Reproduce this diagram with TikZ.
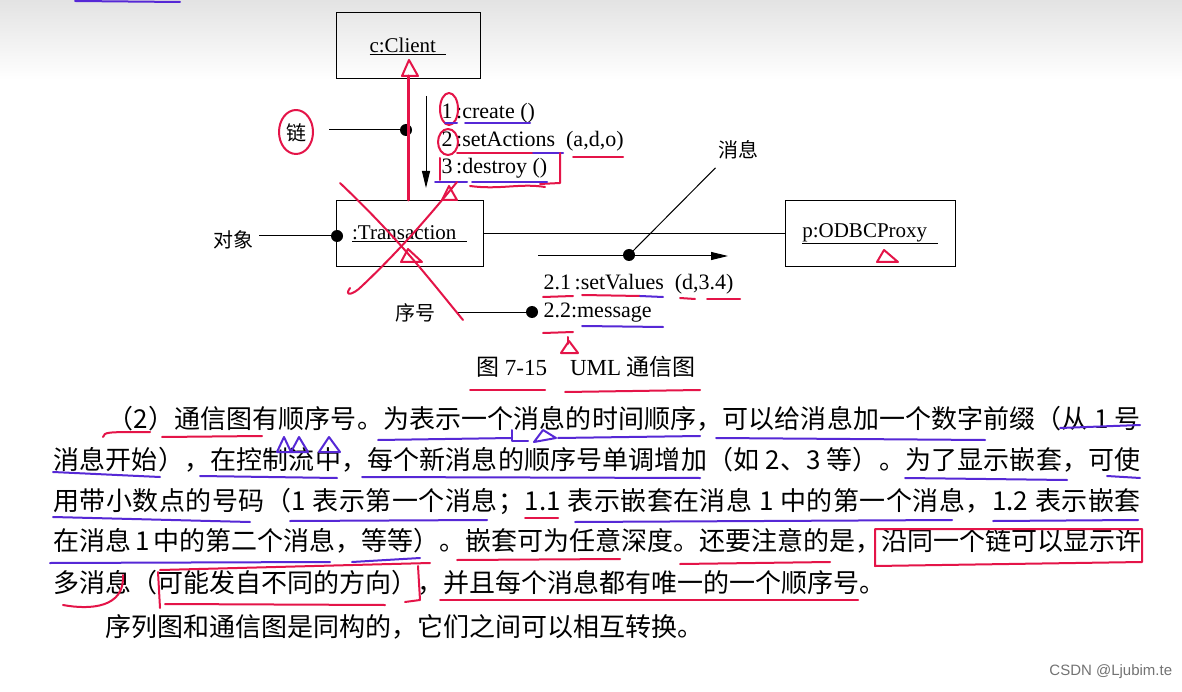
\documentclass[tikz,border=0pt]{standalone}
\usepackage{fontspec}
\setmainfont{Liberation Serif}
\newfontfamily\cjk{Noto Sans CJK SC}
\newfontfamily\wmfont{Liberation Sans}
\usetikzlibrary{positioning,arrows.meta,calc}

\definecolor{penred}{RGB}{228,20,72}
\definecolor{penpurple}{RGB}{86,40,214}

% spread one printed line over a given width
\makeatletter
\newcommand\spreadtext[2]{\hbox to #1{\@tfor\sp@ch:=#2\do{\sp@ch\hfil}\unskip}}
\makeatother

\begin{document}
\begin{tikzpicture}[
    x=1pt, y=-1pt,
    >={Triangle[length=17pt,width=8pt]},
    line width=1pt,
    obj/.style={draw, line width=1pt, minimum height=66pt, inner sep=0pt,
        font=\fontsize{21}{24}\selectfont},
    dot/.style={circle, fill, inner sep=0pt, minimum size=12pt},
    msg/.style={anchor=west, inner sep=0pt, font=\fontsize{22}{25}\selectfont},
    note/.style={inner sep=0pt, font=\cjk\fontsize{20}{24}\selectfont},
    para/.style={anchor=west, inner sep=0pt, font=\cjk\fontsize{26}{30}\selectfont},
    pen/.style={penred, line width=2pt, line cap=round, line join=round},
    ink/.style={penpurple, line width=2pt, line cap=round, line join=round}
]
\useasboundingbox (0,0) rectangle (1182,692);
\fill[white] (0,0) rectangle (1182,692);
\shade[top color=black!11, bottom color=white] (0,0) rectangle (1182,80);

% objects
\node[obj, minimum width=144pt] (client) at (408,46) {\underline{c:Client\enspace}};
\node[obj, minimum width=147pt] (trans) at (409.5,233.5) {\underline{:Transaction\enspace}};
\node[obj, minimum width=170pt] (proxy) at (870,233.5) {\underline{p:ODBCProxy\enspace}};

% links
\draw (client.south) -- (client.south |- trans.north);
\draw (trans.east) -- (proxy.west);

% messages
\coordinate (a1s) at (426,96);
\coordinate (a1e) at (426,188);
\draw[->] (a1s) -- (a1e);
\node[msg] (m1) at (441,113) {1\,:create ()};
\node[msg] (m2) at (441,141) {2\,:setActions~~(a,d,o)};
\node[msg] (m3) at (441,168) {3\,:destroy ()};

\coordinate (a2s) at (538,256);
\coordinate (a2e) at (728,256);
\draw[->] (a2s) -- (a2e);
\node[msg] (m21) at (543,284) {2.1\,:setValues~~(d,3.4)};
\node[msg] (m22) at (543,313) {2.2:message};

% callouts
\node[dot] (linkdot) at (406,130) {};
\node[note] (lian) at (296,133) {链};
\draw (linkdot.center) -- ($(lian.east)+(22,-3)$);

\node[dot] (objdot) at (337,236) {};
\node[note] (duixiang) at (233,240) {对象};
\draw (objdot.center) -- ($(duixiang.east)+(5,-4)$);

\node[dot] (seqdot) at (532,312) {};
\node[note] (xuhao) at (415,313) {序号};
\draw (seqdot.center) -- ($(xuhao.east)+(20,-1)$);

\node[dot] (msgdot) at (629,255) {};
\node[note] (xiaoxi) at (738,150) {消息};
\draw (msgdot.center) -- ($(xiaoxi.south west)+(-2,8)$);

% caption
\node[font=\fontsize{23}{27}\selectfont] (cap) at (586,367) {{\cjk 图} 7-15\quad UML {\cjk 通信图}};

% text below
\node[para] (p1) at (107,419) {\spreadtext{1033pt}{（2）通信图有顺序号。为表示一个消息的时间顺序，可以给消息加一个数字前缀（从~1~号}};
\node[para] (p2) at (53,460) {\spreadtext{1087pt}{消息开始），在控制流中，每个新消息的顺序号单调增加（如~2、3~等）。为了显示嵌套，可使}};
\node[para] (p3) at (53,501) {\spreadtext{1087pt}{用带小数点的号码（1~表示第一个消息；{1.1}~表示嵌套在消息~1~中的第一个消息，{1.2}~表示嵌套}};
\node[para] (p4) at (53,541) {\spreadtext{1087pt}{在消息~1~中的第二个消息，等等）。嵌套可为任意深度。还要注意的是，沿同一个链可以显示许}};
\node[para] (p5) at (53,583) {多消息（可能发自不同的方向），并且每个消息都有唯一的一个顺序号。};
\node[para] (p6) at (105,627) {序列图和通信图是同构的，它们之间可以相互转换。};

\node[font=\wmfont\fontsize{15}{18}\selectfont, text=black!55, anchor=east] (wm) at (1176,672) {CSDN @Ljubim.te};

% handwritten marks
\draw[ink] (75,1) -- (180,2);
\draw[pen, line width=3pt] (408,76) -- (408,200);
\draw[pen] (402,76) -- (409,60) -- (418,76) -- cycle;
\draw[pen] (296,132) ellipse [x radius=17, y radius=22];
\draw[pen] (449,109) ellipse [x radius=9, y radius=16];
\draw[pen] (448,142) ellipse [x radius=10, y radius=13];
\draw[ink] (445,123) -- (457,123);
\draw[ink] (465,123) -- (530,123);
\draw[pen] (457,153) -- (533,153);
\draw[ink] (533,153) -- (563,153);
\draw[pen] (573,157) -- (623,157);
\draw[pen] (440,158) -- (440,180);
\draw[pen] (560,153) -- (560,183) -- (540,184);
\draw[ink] (435,182) -- (467,182);
\draw[ink] (472,182) -- (547,182);
\draw[pen] (470,186) .. controls (500,190) and (520,183) .. (545,187);
\draw[pen] (442,200) -- (449,186) -- (457,200) -- cycle;
\draw[pen] (340,183) .. controls (400,240) and (430,280) .. (463,320);
\draw[pen] (350,288) .. controls (344,296) and (352,296) .. (362,286) .. controls (400,250) and (430,215) .. (457,182);
\draw[pen] (401,262) -- (408,249) -- (422,262) -- cycle;
\draw[pen] (877,262) -- (884,250) -- (898,262) -- cycle;
\draw[pen] (543,297) -- (573,296);
\draw[pen] (582,295) -- (640,296);
\draw[ink] (640,296) -- (663,297);
\draw[pen] (680,298) -- (695,299);
\draw[pen] (707,299) -- (740,299);
\draw[ink] (582,326) -- (663,327);
\draw[pen] (543,333) -- (573,332);
\draw[pen] (568,337) -- (568,344);
\draw[pen] (561,353) -- (569,341) -- (578,353) -- cycle;
\draw[pen] (470,390) -- (545,390);
\draw[pen] (565,392) -- (700,390);

\draw[pen] (103,437) .. controls (105,432) .. (150,432);
\draw[pen] (162,437) -- (262,436);
\draw[ink] (277,452) -- (284,437) -- (291,452) -- (299,437) -- (308,452) -- cycle;
\draw[ink] (319,452) -- (329,437) -- (340,452) -- cycle;
\draw[ink] (378,440) -- (512,438);
\draw[ink] (512,430) -- (512,441) -- (528,441);
\draw[ink] (534,442) -- (543,430) -- (556,438) -- cycle;
\draw[ink] (558,438) -- (700,436);
\draw[ink] (716,438) -- (985,440);
\draw[ink] (1060,428) -- (1140,425);
\draw[ink] (53,472) -- (160,477);
\draw[ink] (200,476) -- (337,478);
\draw[ink] (362,477) -- (700,478);
\draw[ink] (905,478) -- (1067,480);
\draw[ink] (1107,476) -- (1140,478);
\draw[ink] (53,517) -- (250,522);
\draw[ink] (290,521) -- (487,520);
\draw[pen] (525,518) -- (558,518);
\draw[ink] (575,522) -- (952,520);
\draw[ink] (993,521) -- (1138,520);
\draw[ink] (50,563) -- (330,562);
\draw[ink] (352,562) -- (420,558);
\draw[pen] (160,570) -- (430,563);
\draw[pen] (418,566) -- (420,600) -- (405,602);
\draw[pen] (158,572) -- (160,608);
\draw[pen] (165,604) -- (385,605);
\draw[pen] (63,605) .. controls (90,610) and (125,608) .. (123,575);
\draw[pen] (457,560) -- (620,559);
\draw[pen] (680,564) -- (830,562);
\draw[pen] (875,529) -- (875,566) -- (1142,562) -- (1142,529) -- cycle;
\draw[pen] (440,600) -- (858,600);
\end{tikzpicture}
\end{document}
